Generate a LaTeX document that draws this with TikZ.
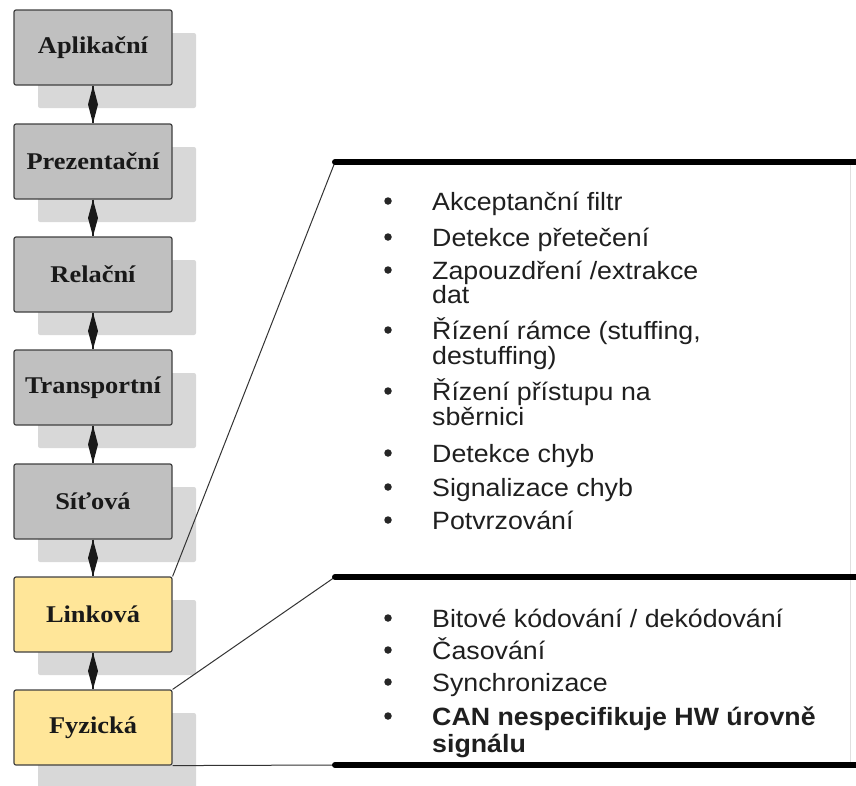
\documentclass[tikz,border=0pt]{standalone}
\usepackage{fontspec}
\setmainfont{Liberation Sans}
\newfontfamily\layerfont[FakeStretch=1.1]{Liberation Serif}
\newfontfamily\listfont[FakeStretch=1.07]{Liberation Sans}
\usetikzlibrary{calc,shadows}
\definecolor{layergray}{HTML}{C0C0C0}
\definecolor{layeryellow}{HTML}{FFE699}
\definecolor{shadowgray}{HTML}{D8D8D8}
\tikzset{
  layer/.style={draw=black!75, line width=1.2pt, rounded corners=2pt,
    minimum width=158pt, minimum height=75pt, inner sep=0pt,
    font=\layerfont\bfseries\fontsize{24}{26}\selectfont, text=black!90,
    general shadow={fill=shadowgray, shadow xshift=24pt, shadow yshift=-23pt}},
  upper/.style={layer, fill=layergray},
  lower/.style={layer, fill=layeryellow},
  link/.style={draw=black!85, line width=1.2pt},
  tie/.style={draw=black!80, line width=1pt},
  rule/.style={draw=black, line width=6pt, line cap=round},
  edge/.style={draw=black!12, line width=1pt},
  dot/.style={circle, fill=black!85, inner sep=0pt, minimum size=7.5pt},
  item/.style={anchor=base west, inner sep=0pt, text=black!88,
    font=\listfont\fontsize{25}{27}\selectfont},
  bolditem/.style={item, font=\listfont\bfseries\fontsize{25}{27}\selectfont},
}
\newcommand{\joinlayers}[2]{%
  \draw[link] (#1.south) -- (#2.north);
  \fill[black!90] (#1.south) -- ($(#1.south)!0.5!(#2.north)+(5,0)$)
    -- (#2.north) -- ($(#1.south)!0.5!(#2.north)+(-5,0)$) -- cycle;}
\begin{document}
\begin{tikzpicture}[x=1pt, y=-1pt]
\useasboundingbox (0,0) rectangle (856,785);
\clip (0,0) rectangle (856,785);

% OSI layers
\node[upper] (app)   at (93,47.5)  {Aplikační};
\node[upper] (pres)  at (93,161.5) {Prezentační};
\node[upper] (sess)  at (93,274.5) {Relační};
\node[upper] (trans) at (93,387.5) {Transportní};
\node[upper] (net)   at (93,501.5) {Síťová};
\node[lower] (dl)    at (93,614.5) {Linková};
\node[lower] (phy)   at (93,727.5) {Fyzická};

\joinlayers{app}{pres}
\joinlayers{pres}{sess}
\joinlayers{sess}{trans}
\joinlayers{trans}{net}
\joinlayers{net}{dl}
\joinlayers{dl}{phy}

% callout frames
\coordinate (c1) at (335,162);
\coordinate (c1r) at (856,162);
\coordinate (c2) at (335,577);
\coordinate (c2r) at (856,577);
\coordinate (c3) at (335,765);
\coordinate (c3r) at (856,765);
\coordinate (e1) at (850,162);
\coordinate (e2) at (850,765);

\draw[edge] (e1) -- (e2);
\draw[tie] (dl.north east) -- (c1);
\draw[tie] (phy.north east) -- (c2);
\draw[tie] (phy.south east) -- (c3);
\draw[rule] (c1) -- (c1r);
\draw[rule] (c2) -- (c2r);
\draw[rule] (c3) -- (c3r);

% data link layer tasks
\node[item] (d1)  at (432,210) {Akceptanční filtr};
\node[item] (d2)  at (432,246) {Detekce přetečení};
\node[item] (d3)  at (432,279) {Zapouzdření /extrakce};
\node[item] (d3b) at (432,303) {dat};
\node[item] (d4)  at (432,339) {Řízení rámce (stuffing,};
\node[item] (d4b) at (432,364) {destuffing)};
\node[item] (d5)  at (432,400) {Řízení přístupu na};
\node[item] (d5b) at (432,425) {sběrnici};
\node[item] (d6)  at (432,462) {Detekce chyb};
\node[item] (d7)  at (432,496) {Signalizace chyb};
\node[item] (d8)  at (432,529) {Potvrzování};
\foreach \y [count=\i] in {210,246,279,339,400,462,496,529}
  \node[dot] (db\i) at (388,\y-9) {};

% physical layer tasks
\node[item] (f1) at (432,627) {Bitové kódování / dekódování};
\node[item] (f2) at (432,659) {Časování};
\node[item] (f3) at (432,691) {Synchronizace};
\node[bolditem] (f4)  at (432,725) {CAN nespecifikuje HW úrovně};
\node[bolditem] (f4b) at (432,752) {signálu};
\foreach \y [count=\i] in {627,659,691,725}
  \node[dot] (fb\i) at (388,\y-9) {};
\end{tikzpicture}
\end{document}
